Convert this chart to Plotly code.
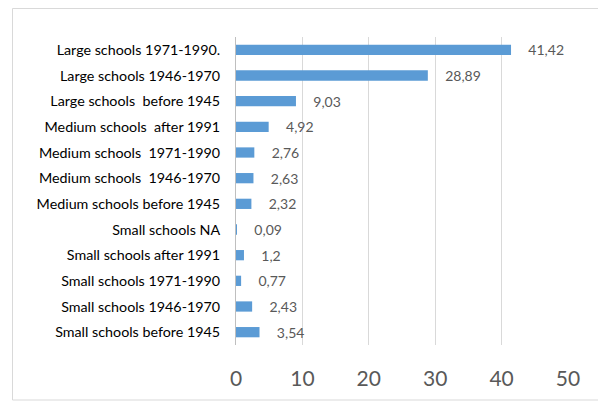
import plotly.graph_objects as go

categories = [
    "Large schools 1971-1990.",
    "Large schools 1946-1970",
    "Large schools  before 1945",
    "Medium schools  after 1991",
    "Medium schools  1971-1990",
    "Medium schools  1946-1970",
    "Medium schools before 1945",
    "Small schools NA",
    "Small schools after 1991",
    "Small schools 1971-1990",
    "Small schools 1946-1970",
    "Small schools before 1945",
]
values = [41.42, 28.89, 9.03, 4.92, 2.76, 2.63, 2.32, 0.09, 1.2, 0.77, 2.43, 3.54]
x_ticks = [0, 10, 20, 30, 40, 50]

labels = ["\u00a0\u00a0\u00a0\u00a0" + str(v).replace(".", ",") for v in values]

# page has an 8px body margin, so the figure is drawn at (8, 8)
L, T, PW, PH = 228, 29, 332, 308
W, H = 598, 395

fig = go.Figure(go.Bar(
    x=values,
    y=[c.replace("  ", "\u00a0 ") for c in categories],
    orientation="h",
    marker=dict(color="#5B9BD5", line=dict(width=0)),
    text=labels,
    textposition="outside",
    constraintext="none",
    cliponaxis=False,
    textfont=dict(family="Lato", size=14, color="#595959"),
))

fig.update_layout(
    width=W, height=H,
    margin=dict(l=L, r=W - L - PW, t=T, b=H - T - PH, autoexpand=False),
    paper_bgcolor="white", plot_bgcolor="white",
    bargap=0.6,
    showlegend=False,
    font=dict(family="Lato"),
    shapes=[dict(
        type="rect", xref="paper", yref="paper",
        x0=(4.5 - L) / PW, x1=(W + 10 - L) / PW,
        y0=(T + PH - 392) / PH, y1=(T + PH - 0.5) / PH,
        line=dict(color="#d9d9d9", width=1), fillcolor="rgba(0,0,0,0)",
        layer="below",
    )],
)
fig.update_xaxes(
    range=[0, 50], tickvals=x_ticks, automargin=False,
    showgrid=True, gridcolor="#d9d9d9", gridwidth=1,
    zeroline=False, showline=False,
    ticks="outside", ticklen=15, tickcolor="rgba(0,0,0,0)",
    tickfont=dict(family="Lato", size=21, color="#595959"),
)
fig.update_yaxes(
    autorange="reversed", automargin=False,
    showline=True, linecolor="#bfbfbf", linewidth=1,
    showgrid=False,
    ticks="outside", ticklen=12, tickcolor="rgba(0,0,0,0)",
    tickfont=dict(family="Lato", size=14.3, color="#000000"),
)

fig.write_html("out.html")
